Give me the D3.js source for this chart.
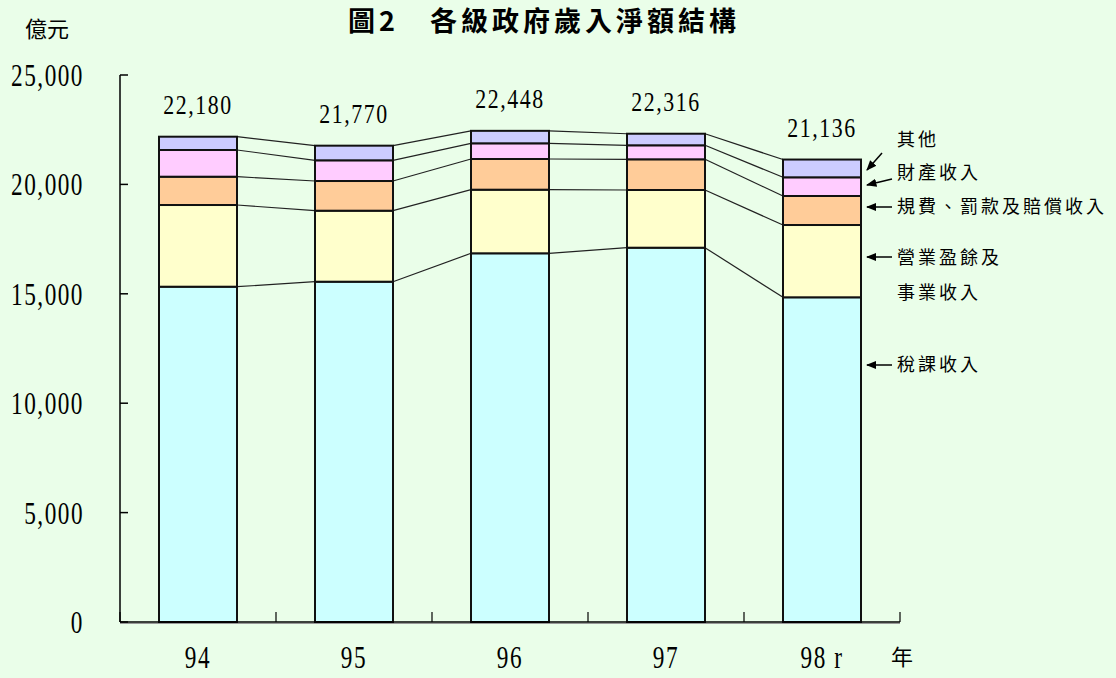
<!DOCTYPE html>
<meta charset="utf-8">
<script src="https://d3js.org/d3.v7.min.js"></script>
<style>
  body { margin: 0; background: #eafee9; }
  svg { display: block; }
  .num { font-family: "Liberation Serif", serif; fill: #000; }
  .cjk { font-family: "Noto Sans CJK TC", sans-serif; fill: #000; }
</style>
<div id="chart"></div>
<script>
// data (億元)
var years = ["94", "95", "96", "97", "98 r"];
var series = ["稅課收入", "營業盈餘及事業收入", "規費、罰款及賠償收入", "財產收入", "其他"];
var tax      = [15324, 15553, 16851, 17107, 14840];
var business = [3734, 3245, 2907, 2637, 3304];
var fees     = [1294, 1357, 1403, 1403, 1326];
var property = [1220, 946, 717, 640, 854];
var others   = [608, 669, 570, 529, 812];
var totals   = [22180, 21770, 22448, 22316, 21136];
var yTicks   = [0, 5000, 10000, 15000, 20000, 25000];
var colors   = ["#ccffff", "#ffffcc", "#ffcc99", "#ffccff", "#ccccff"];

var W = 1116, H = 678;
var svg = d3.select("#chart").append("svg")
    .attr("width", W).attr("height", H);

var x = d3.scaleBand().domain(years).range([120, 900])
    .paddingInner(0.5).paddingOuter(0.25);
var y = d3.scaleLinear().domain([0, 25000]).range([622, 75]);

var rows = years.map(function(yr, i) {
  return {year: yr, s0: tax[i], s1: business[i], s2: fees[i], s3: property[i], s4: others[i]};
});
var stack = d3.stack().keys(["s0", "s1", "s2", "s3", "s4"]);
var layers = stack(rows);

// title
svg.append("text").attr("class", "cjk")
    .attr("x", 544).attr("y", 31)
    .attr("text-anchor", "middle")
    .attr("font-size", 27).attr("font-weight", "bold")
    .attr("letter-spacing", 4)
    .text("圖2　各級政府歲入淨額結構");

svg.append("text").attr("class", "cjk")
    .attr("x", 25).attr("y", 37)
    .attr("font-size", 22)
    .text("億元");

// connector lines between bars
layers.forEach(function(layer) {
  for (var i = 0; i < years.length - 1; i++) {
    svg.append("line")
      .attr("x1", x(years[i]) + x.bandwidth())
      .attr("y1", y(layer[i][1]))
      .attr("x2", x(years[i + 1]))
      .attr("y2", y(layer[i + 1][1]))
      .attr("stroke", "#222").attr("stroke-width", 1.2);
  }
});

// stacked bars
svg.append("g").selectAll("g")
  .data(layers)
  .join("g")
    .attr("fill", function(d, i) { return colors[i]; })
  .selectAll("rect")
  .data(function(d) { return d; })
  .join("rect")
    .attr("x", function(d) { return x(d.data.year); })
    .attr("y", function(d) { return y(d[1]); })
    .attr("width", x.bandwidth())
    .attr("height", function(d) { return y(d[0]) - y(d[1]); })
    .attr("stroke", "#111").attr("stroke-width", 2);

// total labels
svg.append("g").selectAll("text")
  .data(totals)
  .join("text")
    .attr("class", "num")
    .attr("transform", function(d, i) {
      return "translate(" + (x(years[i]) + x.bandwidth() / 2) + "," + (y(d) - 23) + ") scale(0.78,1)";
    })
    .attr("text-anchor", "middle")
    .attr("font-size", 28)
    .attr("letter-spacing", 2)
    .text(function(d) { return d3.format(",")(d); });

// y axis
svg.append("line").attr("x1", 120).attr("x2", 120)
    .attr("y1", y(25000)).attr("y2", y(0))
    .attr("stroke", "#000").attr("stroke-width", 1.5);
svg.append("g").selectAll("line")
  .data(yTicks)
  .join("line")
    .attr("x1", 120).attr("x2", 128)
    .attr("y1", function(d) { return y(d); })
    .attr("y2", function(d) { return y(d); })
    .attr("stroke", "#000").attr("stroke-width", 1.5);
svg.append("g").selectAll("text")
  .data(yTicks)
  .join("text")
    .attr("class", "num")
    .attr("transform", function(d) { return "translate(84," + (y(d) + 11) + ") scale(0.75,1)"; })
    .attr("text-anchor", "end")
    .attr("font-size", 31)
    .attr("letter-spacing", 2)
    .text(function(d) { return d3.format(",")(d); });

// x axis
var xEdges = [120].concat(years.map(function(yr) { return x(yr) + x.bandwidth() + x.step() * 0.25; }));
svg.append("line").attr("x1", 120).attr("x2", 900)
    .attr("y1", y(0)).attr("y2", y(0))
    .attr("stroke", "#000").attr("stroke-width", 1.5);
svg.append("line").attr("x1", 120).attr("x2", 900)
    .attr("y1", y(0) + 1.5).attr("y2", y(0) + 1.5)
    .attr("stroke", "#999").attr("stroke-width", 1);
svg.append("g").selectAll("line")
  .data(xEdges)
  .join("line")
    .attr("x1", function(d) { return d; }).attr("x2", function(d) { return d; })
    .attr("y1", y(0)).attr("y2", y(0) - 10)
    .attr("stroke", "#000").attr("stroke-width", 1.2);
svg.append("g").selectAll("text")
  .data(years)
  .join("text")
    .attr("class", "num")
    .attr("transform", function(d) {
      return "translate(" + (x(d) + x.bandwidth() / 2) + ",668) scale(0.75,1)";
    })
    .attr("text-anchor", "middle")
    .attr("font-size", 31)
    .attr("letter-spacing", 2)
    .attr("xml:space", "preserve")
    .text(function(d) { return d; });
svg.append("text").attr("class", "cjk")
    .attr("x", 891).attr("y", 665)
    .attr("font-size", 22)
    .text("年");

// legend with arrows
svg.append("defs").append("marker")
    .attr("id", "arr").attr("viewBox", "0 0 10 10")
    .attr("refX", 9).attr("refY", 5)
    .attr("markerWidth", 7).attr("markerHeight", 7)
    .attr("orient", "auto-start-reverse")
  .append("path").attr("d", "M0,1L10,5L0,9Z").attr("fill", "#000");

var legend = [
  {text: "其他", tx: 897, ty: 140, ax1: 882, ay1: 153, ax2: 867, ay2: 170},
  {text: "財產收入", tx: 897, ty: 173, ax1: 892, ay1: 179, ax2: 867, ay2: 185},
  {text: "規費、罰款及賠償收入", tx: 897, ty: 207, ax1: 892, ay1: 207, ax2: 867, ay2: 207},
  {text: "營業盈餘及", tx: 897, ty: 258, ax1: 892, ay1: 257, ax2: 867, ay2: 257},
  {text: "事業收入", tx: 897, ty: 293},
  {text: "稅課收入", tx: 897, ty: 365, ax1: 892, ay1: 365, ax2: 867, ay2: 365}
];
legend.forEach(function(d) {
  svg.append("text").attr("class", "cjk")
    .attr("x", d.tx).attr("y", d.ty)
    .attr("dy", "0.36em")
    .attr("font-size", 18)
    .attr("letter-spacing", 3)
    .text(d.text);
  if (d.ax1) {
    svg.append("line")
      .attr("x1", d.ax1).attr("y1", d.ay1)
      .attr("x2", d.ax2).attr("y2", d.ay2)
      .attr("stroke", "#000").attr("stroke-width", 1.5)
      .attr("marker-end", "url(#arr)");
  }
});
</script>
